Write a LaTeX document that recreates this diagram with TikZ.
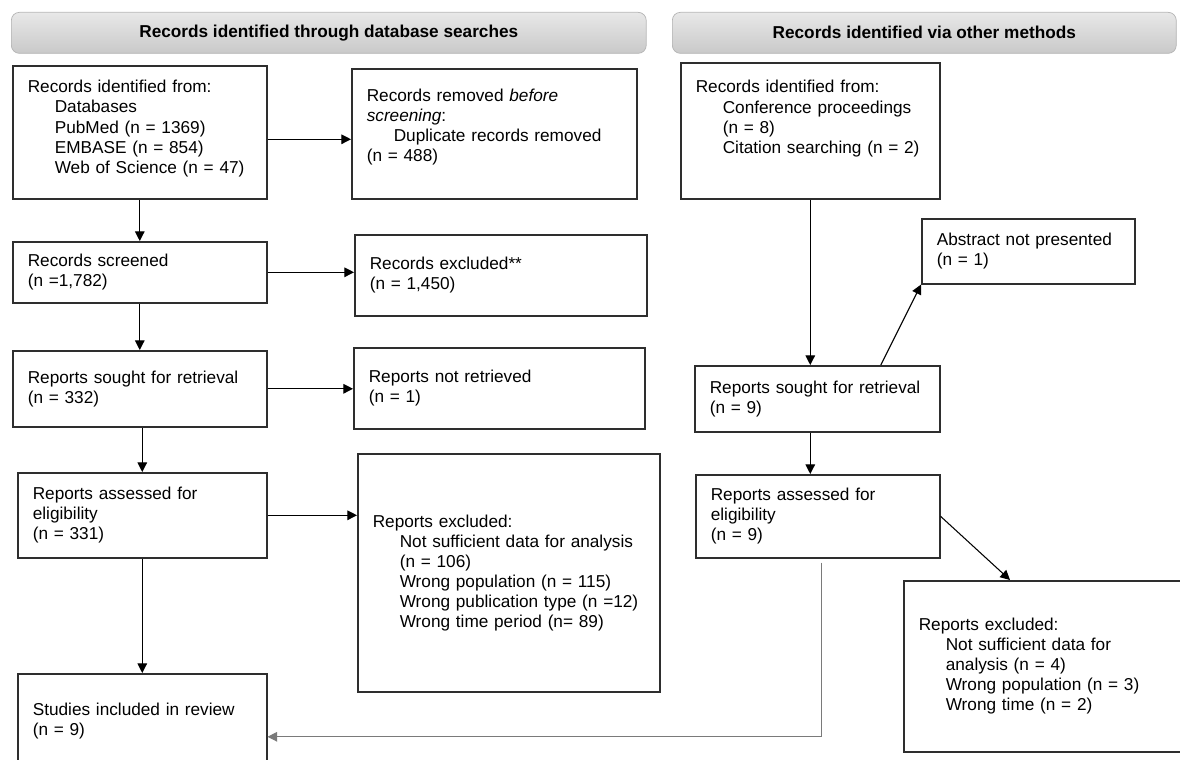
\documentclass[tikz,border=0pt]{standalone}
\usepackage{fontspec}
\setmainfont{Liberation Sans}
\usepackage{tikz}
\usetikzlibrary{arrows.meta, positioning, calc}
\usepackage{xcolor}
\definecolor{boxgrey}{HTML}{2E2E2E}
\definecolor{bartop}{HTML}{E8E8E8}
\definecolor{barbot}{HTML}{C9C9C9}
\definecolor{barline}{HTML}{B4B4B4}
\definecolor{linegrey}{HTML}{7A7A7A}
\newcommand{\prismafont}{\fontsize{9.8}{11.4}\selectfont}
\newcommand{\subind}{\hspace*{0.54cm}}
\newcommand{\padbelow}[1]{\rule[-#1]{0pt}{#1}}
\tikzset{
  recbox/.style={rectangle, draw=boxgrey, line width=0.9pt, fill=white,
                 align=left, inner xsep=0.3cm, inner ysep=2pt,
                 font=\prismafont, anchor=north west},
  phasebar/.style={rectangle, rounded corners=0.16cm, draw=barline,
                   top color=bartop, bottom color=barbot, inner sep=0,
                   font=\prismafont\bfseries, anchor=north west},
  flow/.style={->, >={Triangle[length=5.5pt,width=5.5pt]}, line width=0.6pt, draw=black},
  backflow/.style={flow, draw=linegrey},
}
\begin{document}
\begin{tikzpicture}[x=0.02cm, y=-0.02cm]
  \useasboundingbox (0,0) rectangle (1180,760);

  % --- Phase headers ---
  \node[phasebar, minimum width=12.7cm, minimum height=0.82cm] (dbbar) at (11,12)
    {Records identified through database searches};
  \node[phasebar, minimum width=10.08cm, minimum height=0.82cm] (otherbar) at (672,12)
    {Records identified via other methods};

  % --- Database branch ---
  \node[recbox, text width=4.48cm, minimum height=2.66cm] (dbid) at (12,65)
    {Records identified from:\\
     \subind Databases\\
     \subind PubMed (n = 1369)\\
     \subind EMBASE (n = 854)\\
     \subind Web of Science (n = 47)\padbelow{0.22cm}};
  \node[recbox, text width=5.10cm, minimum height=2.60cm] (dup) at (351,68)
    {Records removed \textit{before}\\
     \textit{screening}:\\
     \subind Duplicate records removed\\
     (n = 488)\padbelow{0.34cm}};
  \node[recbox, text width=4.48cm, minimum height=1.22cm] (screen) at (12,241)
    {Records screened\\(n =1,782)};
  \node[recbox, text width=5.24cm, minimum height=1.62cm] (excl) at (354,234)
    {Records excluded**\\(n = 1,450)};
  \node[recbox, text width=4.48cm, minimum height=1.52cm] (sought) at (12,350)
    {Reports sought for retrieval\\(n = 332)};
  \node[recbox, text width=5.22cm, minimum height=1.62cm] (notret) at (353,347)
    {Reports not retrieved\\(n = 1)};
  \node[recbox, text width=4.38cm, minimum height=1.70cm] (assess) at (17,472)
    {Reports assessed for\\eligibility\\(n = 331)};
  \node[recbox, text width=5.44cm, minimum height=4.76cm] (repexcl) at (357,453)
    {Reports excluded:\\
     \subind Not sufficient data for analysis\\
     \subind (n = 106)\\
     \subind Wrong population (n = 115)\\
     \subind Wrong publication type (n =12)\\
     \subind Wrong time period (n= 89)};
  \node[recbox, text width=4.38cm, minimum height=1.88cm] (incl) at (17,673)
    {Studies included in review\\(n = 9)};

  % --- Other methods branch ---
  \node[recbox, text width=4.58cm, minimum height=2.72cm] (othid) at (680,62)
    {Records identified from:\\
     \subind Conference proceedings\\
     \subind (n = 8)\\
     \subind Citation searching (n = 2)\padbelow{0.56cm}};
  \node[recbox, text width=3.66cm, minimum height=1.30cm] (abst) at (921,218)
    {Abstract not presented\\(n = 1)};
  \node[recbox, text width=4.30cm, minimum height=1.32cm] (osought) at (694,365)
    {Reports sought for retrieval\\(n = 9)};
  \node[recbox, text width=4.28cm, minimum height=1.66cm] (oassess) at (695,474)
    {Reports assessed for\\eligibility\\(n = 9)};
  \node[recbox, text width=6.0cm, minimum height=3.42cm] (orepexcl) at (903,580)
    {Reports excluded:\\
     \subind Not sufficient data for\\
     \subind analysis (n = 4)\\
     \subind Wrong population (n = 3)\\
     \subind Wrong time (n = 2)};

  % Flow, database side
  \draw[flow] (dbid) -- (screen);
  \draw[flow] (screen) -- (sought);
  \draw[flow] (sought.south -| assess.north) -- (assess.north);
  \draw[flow] (assess) -- (incl);
  \draw[flow] ([yshift=-0.14cm]dbid.east) -- ([yshift=-0.14cm]dbid.east -| dup.west);
  \draw[flow] (screen) -- (screen -| excl.west);
  \draw[flow] (sought) -- (sought -| notret.west);
  \draw[flow] (assess) -- (assess -| repexcl.west);

  % Flow, other methods side
  \draw[flow] (othid) -- (othid.south |- osought.north);
  \draw[flow] (osought.28) -- (abst.south west);
  \draw[flow] (osought.south -| othid.south) -- (oassess.north -| othid.south);
  \draw[flow] (oassess.east) -- ($(orepexcl.north west)+(107,0)$);
  \draw[backflow] ([xshift=0.08cm,yshift=-0.08cm]oassess.south) |- ([yshift=-0.32cm]incl.east);

\end{tikzpicture}
\end{document}
